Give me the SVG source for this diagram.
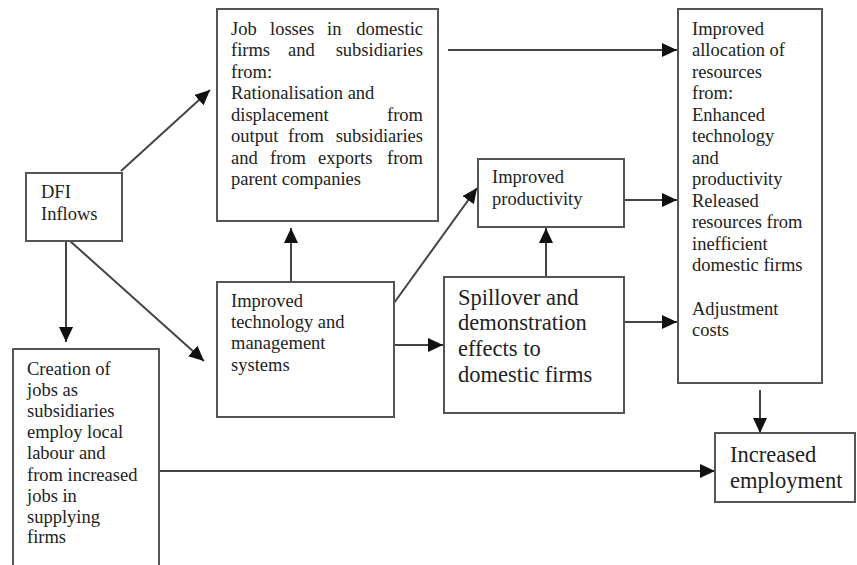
<svg xmlns="http://www.w3.org/2000/svg" width="857" height="565" viewBox="0 0 857 565">
<defs>
<marker id="ah" markerUnits="userSpaceOnUse" markerWidth="16" markerHeight="14" refX="15" refY="7" orient="auto">
<path d="M0,0 L15,7 L0,14 Z" fill="#111"/>
</marker>
<style>
.box{fill:#fff;stroke:#555;stroke-width:2}
.t{font-family:'Liberation Serif','DejaVu Serif',serif;font-size:18.5px;fill:#222}
.tb{font-family:'Liberation Serif','DejaVu Serif',serif;font-size:22.5px;fill:#222}
.c{fill:none;stroke:#444;stroke-width:2;marker-end:url(#ah)}
</style>
</defs>
<rect width="857" height="565" fill="#fff"/>
<g id="connectors">
<line class="c" x1="121" y1="171" x2="210" y2="90"/>
<line class="c" x1="66" y1="241" x2="66" y2="342"/>
<line class="c" x1="70" y1="241" x2="204" y2="361"/>
<line class="c" x1="448" y1="50" x2="677" y2="50"/>
<line class="c" x1="291" y1="282" x2="291" y2="228"/>
<line class="c" x1="394" y1="303" x2="477" y2="188"/>
<line class="c" x1="394" y1="345" x2="443" y2="345"/>
<line class="c" x1="546" y1="277" x2="546" y2="228"/>
<line class="c" x1="624" y1="200" x2="677" y2="200"/>
<line class="c" x1="624" y1="322" x2="677" y2="322"/>
<line class="c" x1="760" y1="390" x2="760" y2="433"/>
<line class="c" x1="159" y1="471" x2="715" y2="471"/>
</g>
<g id="dfi">
<rect class="box" x="26" y="173" width="96" height="68"/>
<text class="t" x="41" y="198">DFI</text>
<text class="t" x="41" y="220">Inflows</text>
</g>
<g id="joblosses">
<rect class="box" x="217" y="9" width="221" height="212"/>
<text class="t" y="35"><tspan x="231">Job</tspan><tspan x="270">losses</tspan><tspan x="327">in</tspan><tspan x="423" text-anchor="end">domestic</tspan></text>
<text class="t" y="56"><tspan x="231">firms</tspan><tspan x="288">and</tspan><tspan x="423" text-anchor="end">subsidiaries</tspan></text>
<text class="t" x="231" y="78">from:</text>
<text class="t" x="231" y="99">Rationalisation and</text>
<text class="t" y="121"><tspan x="231">displacement</tspan><tspan x="423" text-anchor="end">from</tspan></text>
<text class="t" y="142"><tspan x="231">output</tspan><tspan x="288">from</tspan><tspan x="423" text-anchor="end">subsidiaries</tspan></text>
<text class="t" y="164"><tspan x="231">and</tspan><tspan x="270">from</tspan><tspan x="318">exports</tspan><tspan x="423" text-anchor="end">from</tspan></text>
<text class="t" x="231" y="185">parent companies</text>
</g>
<g id="allocation">
<rect class="box" x="678" y="9" width="144" height="374"/>
<text class="t" x="692" y="35">Improved</text>
<text class="t" x="692" y="56">allocation of</text>
<text class="t" x="692" y="78">resources</text>
<text class="t" x="692" y="99">from:</text>
<text class="t" x="692" y="121">Enhanced</text>
<text class="t" x="692" y="142">technology</text>
<text class="t" x="692" y="164">and</text>
<text class="t" x="692" y="185">productivity</text>
<text class="t" x="692" y="207">Released</text>
<text class="t" x="692" y="228">resources from</text>
<text class="t" x="692" y="250">inefficient</text>
<text class="t" x="692" y="271">domestic firms</text>
<text class="t" x="692" y="315">Adjustment</text>
<text class="t" x="692" y="336">costs</text>
</g>
<g id="technology">
<rect class="box" x="217" y="282" width="177" height="135"/>
<text class="t" x="231" y="307">Improved</text>
<text class="t" x="231" y="328">technology and</text>
<text class="t" x="231" y="349">management</text>
<text class="t" x="231" y="371">systems</text>
</g>
<g id="productivity">
<rect class="box" x="478" y="159" width="146" height="68"/>
<text class="t" x="492" y="183">Improved</text>
<text class="t" x="492" y="205">productivity</text>
</g>
<g id="spillover">
<rect class="box" x="444" y="277" width="180" height="136"/>
<text class="tb" x="458" y="305">Spillover and</text>
<text class="tb" x="458" y="330">demonstration</text>
<text class="tb" x="458" y="356">effects to</text>
<text class="tb" x="458" y="382">domestic firms</text>
</g>
<g id="creation">
<rect class="box" x="13" y="349" width="146" height="220"/>
<text class="t" x="27" y="375">Creation of</text>
<text class="t" x="27" y="396">jobs as</text>
<text class="t" x="27" y="417">subsidiaries</text>
<text class="t" x="27" y="438">employ local</text>
<text class="t" x="27" y="459">labour and</text>
<text class="t" x="27" y="481">from increased</text>
<text class="t" x="27" y="502">jobs in</text>
<text class="t" x="27" y="523">supplying</text>
<text class="t" x="27" y="543">firms</text>
</g>
<g id="employment">
<rect class="box" x="715" y="433" width="140" height="69"/>
<text class="tb" x="730" y="462">Increased</text>
<text class="tb" x="730" y="488">employment</text>
</g>
</svg>
